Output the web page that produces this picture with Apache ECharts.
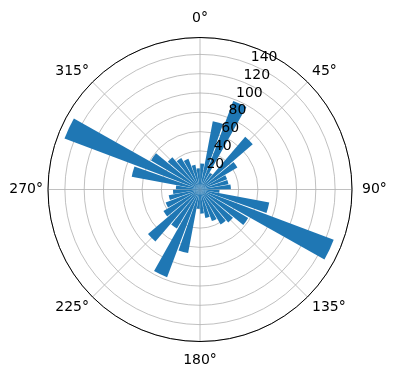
<!DOCTYPE html>
<html>
<head>
<meta charset="utf-8">
<script src="https://cdn.jsdelivr.net/npm/echarts@6/dist/echarts.min.js"></script>
<style>
html, body { margin: 0; padding: 0; background: #fff; }
#chart-0 { width: 396px; height: 380px; }
</style>
</head>
<body>
<div id="chart-0"></div>
<script>
// 36 direction bins of 10 degrees, clockwise from north
var sectors = [];
for (var i = 0; i < 36; i++) sectors.push(i * 10 + 5);
var radii = [27, 72, 98, 20, 72, 45, 30, 30, 32, 20, 73, 148,
             58, 45, 42, 35, 30, 25, 20, 67, 97, 47, 71, 44,
             38, 33, 28, 25, 72, 150, 59, 44, 38, 34, 26, 22];
var radialTicks = [20, 40, 60, 80, 100, 120, 140];
var angleTicks = [0, 45, 90, 135, 180, 225, 270, 315];

var rMax = 157.5;
var font = 'DejaVu Sans';
var center = [200, 189.5];
var radius = 152;

// extra room per label so they sit where matplotlib centres them
function pad(p) {
    return { padding: p, color: '#000', fontSize: 14, fontFamily: font };
}
var angleRich = {
    t: pad([0, 0, 7, 0]),
    r: pad([0, 0, 0, 5]),
    b: pad([7, 0, 0, 0]),
    l: pad([0, 0, 0, 0]),
    d: pad([0, 0, 0, 1])
};
var angleStyle = { 0: 't', 45: 'd', 90: 'r', 135: 'd', 180: 'b', 225: 'l', 270: 'l', 315: 'l' };

var chart = echarts.init(document.getElementById('chart-0'));
var option = {
    animation: false,
    polar: [
        { center: center, radius: radius },
        { center: center, radius: radius },
        { center: center, radius: radius }
    ],
    angleAxis: [
        {
            polarIndex: 0,
            type: 'category',
            data: sectors,
            startAngle: 90,
            clockwise: true,
            axisLine: { show: false },
            axisTick: { show: false },
            axisLabel: { show: false },
            splitLine: { show: false }
        },
        {
            polarIndex: 1,
            type: 'value',
            min: 0,
            max: 360,
            interval: 45,
            startAngle: 90,
            clockwise: true,
            axisLine: { lineStyle: { color: '#000', width: 1 } },
            axisTick: { show: false },
            axisLabel: {
                margin: 5,
                color: '#000',
                fontSize: 14,
                fontFamily: font,
                rich: angleRich,
                formatter: function(v) {
                    if (angleTicks.indexOf(v) < 0) return '';
                    return '{' + angleStyle[v] + '|' + v + '°}';
                }
            },
            splitLine: { lineStyle: { color: '#b0b0b0', width: 0.8 } }
        },
        {
            polarIndex: 2,
            type: 'value',
            min: 0,
            max: 360,
            startAngle: 67.5,
            clockwise: true,
            axisLine: { show: false },
            axisTick: { show: false },
            axisLabel: { show: false },
            splitLine: { show: false }
        }
    ],
    radiusAxis: [
        {
            polarIndex: 0,
            type: 'value',
            min: 0,
            max: rMax,
            interval: 20,
            axisLine: { show: false },
            axisTick: { show: false },
            axisLabel: { show: false },
            splitLine: { lineStyle: { color: '#b0b0b0', width: 0.8 } }
        },
        {
            polarIndex: 1,
            type: 'value',
            min: 0,
            max: rMax,
            show: false
        },
        {
            polarIndex: 2,
            type: 'value',
            min: 0,
            max: rMax,
            interval: 20,
            axisLine: { show: false },
            axisTick: { show: false },
            splitLine: { show: false },
            axisLabel: {
                margin: 1,
                align: 'left',
                verticalAlign: 'bottom',
                color: '#000',
                fontSize: 14,
                fontFamily: font,
                formatter: function(v) {
                    return radialTicks.indexOf(v) >= 0 ? String(v) : '';
                }
            },
            z: 5
        }
    ],
    series: [{
        type: 'bar',
        coordinateSystem: 'polar',
        polarIndex: 0,
        data: radii,
        barCategoryGap: '12%',
        itemStyle: { color: '#1f77b4' },
        z: 3
    }]
};
chart.setOption(option);
</script>
</body>
</html>
